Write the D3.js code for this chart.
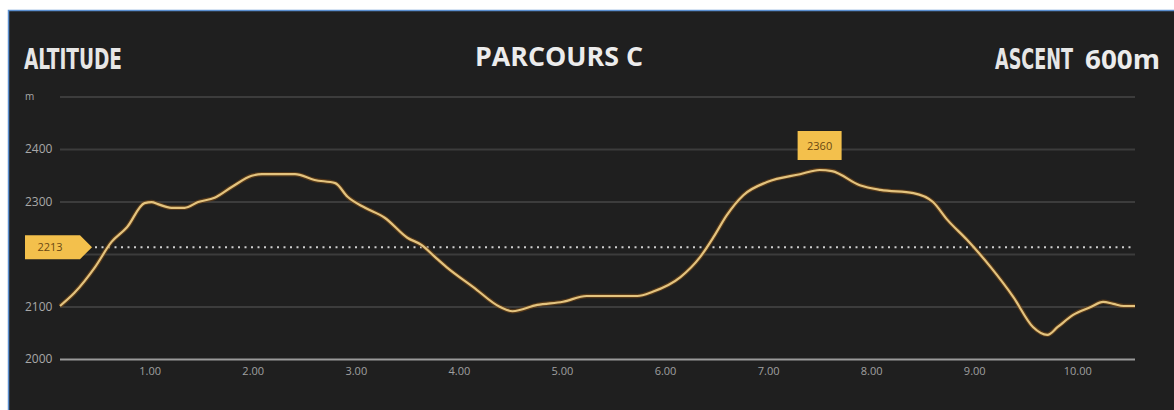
<!DOCTYPE html>
<meta charset="utf-8">
<script src="https://d3js.org/d3.v7.min.js"></script>
<style>
  body { margin: 0; background: #fff; }
  text { font-family: "Open Sans", "DejaVu Sans", sans-serif; }
</style>
<div id="my_dataviz"></div>
<script>

  // profile data : distance (km) and altitude (m)
  var distances = [0.13, 0.27, 0.47, 0.63, 0.78, 0.95, 1.02, 1.08, 1.21, 1.34, 1.47, 1.63, 1.80, 1.99, 2.09,
                   2.41, 2.60, 2.80, 2.92, 3.09, 3.28, 3.50, 3.64, 3.77, 3.88, 4.14, 4.40, 4.52, 4.76, 5.01,
                   5.24, 5.73, 5.88, 6.15, 6.34, 6.47, 6.60, 6.76, 6.99, 7.31, 7.50, 7.62, 7.89, 8.09, 8.41,
                   8.60, 8.74, 8.93, 9.16, 9.38, 9.57, 9.71, 9.81, 9.96, 10.13, 10.25, 10.35, 10.45, 10.56];
  var altitudes = [2101, 2126, 2175, 2223, 2251, 2297, 2299, 2295, 2288, 2288, 2299, 2307, 2328, 2349, 2352,
                   2352, 2341, 2335, 2309, 2288, 2269, 2231, 2217, 2194, 2175, 2137, 2099, 2091, 2103, 2109,
                   2120, 2120, 2128, 2156, 2194, 2232, 2274, 2312, 2337, 2352, 2360, 2358, 2331, 2322, 2316,
                   2299, 2265, 2227, 2175, 2118, 2061, 2046, 2061, 2084, 2099, 2109, 2105, 2101, 2101];
  var yTicks = [2000, 2100, 2200, 2300, 2400, 2500];
  var xTicks = [1, 2, 3, 4, 5, 6, 7, 8, 9, 10];
  var average = 2213;
  var maxAlt = 2360, maxDist = 7.50;
  var title = "PARCOURS C", ascent = "600m";

  var W = 1174, H = 410;
  var plotL = 60, plotR = 1135, plotB = 359, plotT = 96.5;

  var svg = d3.select("#my_dataviz")
    .append("svg")
      .attr("width", W)
      .attr("height", H);

  // frame
  svg.append("rect")
    .attr("x", 8.5).attr("y", 10.5)
    .attr("width", W).attr("height", H)
    .attr("fill", "#1f1f1f")
    .attr("stroke", "#5b8fd0").attr("stroke-width", 1.5);

  var x = d3.scaleLinear().domain([0.13, 10.56]).range([plotL, plotR]);
  var y = d3.scaleLinear().domain([2000, 2500]).range([plotB, plotT]);

  // Y axis + grid
  var yAxis = svg.append("g")
    .attr("transform", "translate(" + plotL + ",0)")
    .call(d3.axisLeft(y).tickValues(yTicks).tickSize(-(plotR - plotL))
      .tickFormat(function(d) { return d === 2500 ? "m" : d; }));
  yAxis.select(".domain").remove();
  yAxis.selectAll(".tick line")
    .attr("stroke", function(d) { return d === 2000 ? "#9a9a9a" : "#3c3c3c"; })
    .attr("stroke-width", 2);
  yAxis.selectAll(".tick text")
    .attr("x", -35).attr("text-anchor", "start")
    .attr("fill", "#a8a8a8")
    .style("font-size", function(d) { return d === 2500 ? "10px" : "12px"; });

  // X axis
  var xAxis = svg.append("g")
    .attr("transform", "translate(0," + plotB + ")")
    .call(d3.axisBottom(x).tickValues(xTicks).tickSize(0).tickPadding(8)
      .tickFormat(d3.format(".2f")));
  xAxis.select(".domain").remove();
  xAxis.selectAll(".tick text")
    .attr("fill", "#a0a0a0")
    .style("font-size", "11px");

  // average line
  svg.append("line")
    .attr("x1", 95).attr("x2", plotR)
    .attr("y1", y(average)).attr("y2", y(average))
    .attr("stroke", "#cfcfcf").attr("stroke-width", 2)
    .attr("stroke-dasharray", "2,4.5");

  // profile
  var data = distances.map(function(d, i) { return {d: d, a: altitudes[i]}; });
  var line = d3.line()
    .x(function(p) { return x(p.d); })
    .y(function(p) { return y(p.a); })
    .curve(d3.curveMonotoneX);

  svg.append("path").datum(data)
    .attr("d", line)
    .attr("fill", "none")
    .attr("stroke", "#7a4a14").attr("stroke-opacity", 0.6)
    .attr("stroke-width", 4.5);
  svg.append("path").datum(data)
    .attr("d", line)
    .attr("fill", "none")
    .attr("stroke", "#e3c37e")
    .attr("stroke-width", 2.2);

  // average tag
  var ay = y(average);
  svg.append("path")
    .attr("d", "M25," + (ay - 12) + "H80L92," + ay + "L80," + (ay + 12) + "H25Z")
    .attr("fill", "#f3c04c");
  svg.append("text")
    .attr("x", 50).attr("y", ay + 4)
    .attr("text-anchor", "middle")
    .attr("fill", "#6a4812")
    .style("font-size", "11px")
    .text(average);

  // max tag
  var mx = x(maxDist), my = y(maxAlt);
  svg.append("rect")
    .attr("x", mx - 22).attr("y", my - 39)
    .attr("width", 44).attr("height", 29)
    .attr("fill", "#f3c04c");
  svg.append("text")
    .attr("x", mx).attr("y", my - 20.5)
    .attr("text-anchor", "middle")
    .attr("fill", "#6a4812")
    .style("font-size", "11px")
    .text(maxAlt);

  // titles
  svg.append("text")
    .attr("x", 24).attr("y", 69)
    .attr("fill", "#e6e6e6")
    .attr("textLength", 98).attr("lengthAdjust", "spacingAndGlyphs")
    .style("font-family", "'Liberation Sans Narrow', 'DejaVu Sans Condensed', sans-serif")
    .style("font-weight", "bold")
    .style("font-size", "28px")
    .text("ALTITUDE");

  svg.append("text")
    .attr("x", 475).attr("y", 66)
    .attr("fill", "#ececec")
    .attr("textLength", 168).attr("lengthAdjust", "spacingAndGlyphs")
    .style("font-weight", "bold")
    .style("font-size", "26px")
    .text(title);

  svg.append("text")
    .attr("x", 995).attr("y", 69)
    .attr("fill", "#e6e6e6")
    .attr("textLength", 78).attr("lengthAdjust", "spacingAndGlyphs")
    .style("font-family", "'Liberation Sans Narrow', 'DejaVu Sans Condensed', sans-serif")
    .style("font-weight", "bold")
    .style("font-size", "28px")
    .text("ASCENT");

  svg.append("text")
    .attr("x", 1085).attr("y", 69)
    .attr("fill", "#ececec")
    .attr("textLength", 75).attr("lengthAdjust", "spacingAndGlyphs")
    .style("font-weight", "bold")
    .style("font-size", "27px")
    .text(ascent);

</script>
